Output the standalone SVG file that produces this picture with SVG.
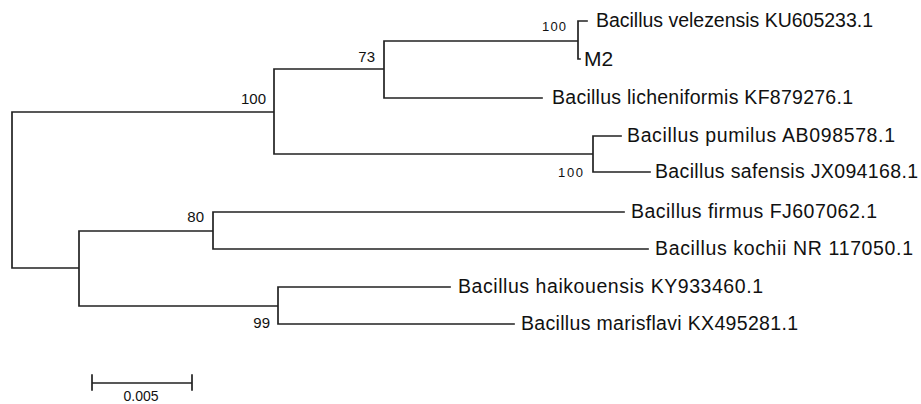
<svg xmlns="http://www.w3.org/2000/svg" width="921" height="404" viewBox="0 0 921 404">
<style>
.br{stroke:#222;stroke-width:1.7;fill:none;stroke-linecap:square}
.sp{font-family:"Liberation Sans",Arial,sans-serif;font-size:19.5px;fill:#111}
.bs{font-family:"Liberation Sans",Arial,sans-serif;font-size:15px;fill:#111;text-anchor:end}
.bsm{font-family:"Liberation Sans",Arial,sans-serif;font-size:13px;fill:#111;text-anchor:end}
</style>
<rect width="921" height="404" fill="#fff"/>
<g id="connectors">
<path class="br" d="M12,112V268M12,112H274M274,69V154M274,69H384M384,41V98M384,41H578M578,21V59M578,21H587M578,59H580M384,98H542M274,154H593M593,136V172M593,136H621M593,172H650M12,268H79M79,231V306M79,231H213M213,212V249M213,212H624M213,249H648M79,306H278M278,287V324M278,287H450M278,324H514"/>
</g>
<g id="bootstrap">
<text class="bs" x="266" y="104">100</text>
<text class="bs" x="375" y="62">73</text>
<text class="bsm" x="566" y="31" textLength="24">100</text>
<text class="bsm" x="583" y="177" textLength="25">100</text>
<text class="bs" x="204" y="222">80</text>
<text class="bs" x="270" y="328">99</text>
</g>
<g id="n-velezensis"><text class="sp" x="596" y="27" textLength="277">Bacillus velezensis KU605233.1</text></g>
<g id="n-M2"><text class="sp" x="584" y="66" style="font-size:21px">M2</text></g>
<g id="n-licheniformis"><text class="sp" x="552" y="104" textLength="301">Bacillus licheniformis KF879276.1</text></g>
<g id="n-pumilus"><text class="sp" x="627" y="142" textLength="268">Bacillus pumilus AB098578.1</text></g>
<g id="n-safensis"><text class="sp" x="655" y="178" textLength="263">Bacillus safensis JX094168.1</text></g>
<g id="n-firmus"><text class="sp" x="631" y="218" textLength="246">Bacillus firmus FJ607062.1</text></g>
<g id="n-kochii"><text class="sp" x="655" y="255" textLength="258">Bacillus kochii NR 117050.1</text></g>
<g id="n-haikouensis"><text class="sp" x="458" y="293" textLength="305">Bacillus haikouensis KY933460.1</text></g>
<g id="n-marisflavi"><text class="sp" x="521" y="330" textLength="277">Bacillus marisflavi KX495281.1</text></g>
<g id="scale">
<path class="br" d="M92,383H192M92,375V390M192,375V390"/>
<text x="141" y="401" text-anchor="middle" style="font-family:'Liberation Sans',Arial,sans-serif;font-size:14px;fill:#111">0.005</text>
</g>
</svg>
